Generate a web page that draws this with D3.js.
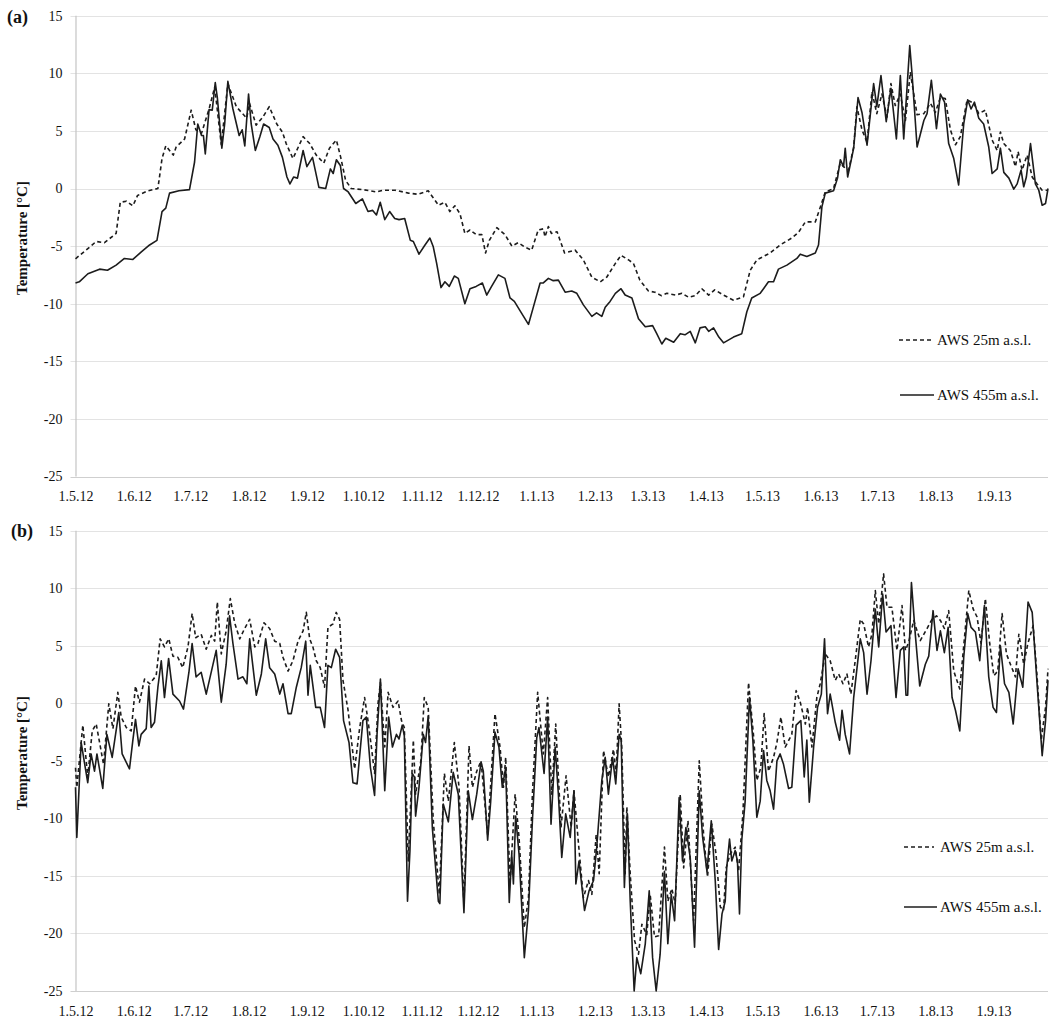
<!DOCTYPE html>
<html><head><meta charset="utf-8">
<script src="https://cdn.jsdelivr.net/npm/d3@7"></script>
<style>
html,body{margin:0;padding:0;background:#fff;}
svg{display:block;font-family:"Liberation Serif","Times New Roman",serif;}
</style></head>
<body>
<svg id="chart" width="1059" height="1023"></svg>
<script>
// ---------- DATA ----------
const startDate = "2012-05-01";
const endDay = 517; // days after start (30.9.13)
const xTickLabels = ["1.5.12","1.6.12","1.7.12","1.8.12","1.9.12","1.10.12","1.11.12","1.12.12","1.1.13","1.2.13","1.3.13","1.4.13","1.5.13","1.6.13","1.7.13","1.8.13","1.9.13"];
const yTicks = [15,10,5,0,-5,-10,-15,-20,-25];
const seriesNames = ["AWS 25m a.s.l.","AWS 455m a.s.l."];

// panel (a) AWS 25m: day offset / temperature
const a25Day = [0,7.4,11,15.4,21.6,23.8,27,30.5,33,38.5,43.8,46,48,52,53.5,58,61.5,64,67,71,74,77.5,81,85.5,91,92.5,96,99.6,103,107,110,112,115.6,121,124.5,128,132,135,138.7,141,143.6,146.6,153,160,163.5,170,177,182,187.5,193,196.4,199,201.7,204.4,207,209.7,213,216,218,220,224,228.3,232,235.4,239,242.5,246,248.7,249.6,251.4,253,256,260,265.6,270,274.5,279,282.4,287,290,294,296.6,300,304.6,308,311.4,314.4,319,322.4,326,329.5,333,336.6,339.8,344.5,349.8,355.1,358.7,362.2,369.3,374.6,380.8,384.4,388,393.3,396,398.6,403,406.6,408.3,411,413.7,415.4,418.1,420.8,423.4,426,428.7,431.4,433.5,435.8,438.5,441.2,443.8,447.4,451,454.5,457.1,459.8,462.4,465.1,467.8,470.4,474,477.5,480.2,483.7,487.3,490,491.7,493.5,497,499.7,501.1,503.2,505.9,508.6,511.2,513.9,517];
const a25Temp = [-6.1,-5.1,-4.6,-4.7,-3.9,-1.2,-1.1,-1.5,-0.6,-0.2,0,2.6,3.7,2.9,3.6,4.3,6.8,5.1,4.8,6.9,8.8,3.8,9.1,7.1,6.1,7.4,5.5,6.2,7.1,5.6,4.9,3.9,2.6,4.5,3.9,2.9,2.2,3.5,4.2,2.7,0.7,0,-0.1,-0.3,-0.15,-0.15,-0.4,-0.5,-0.2,-1.45,-1.2,-2.0,-1.5,-2.2,-3.9,-3.6,-4.0,-4.0,-5.6,-4.5,-3.4,-4.0,-5.0,-4.7,-5.1,-5.35,-3.6,-3.5,-4.2,-3.3,-3.9,-3.75,-5.6,-5.35,-6.2,-7.7,-8.1,-7.7,-6.5,-5.8,-6.2,-6.5,-7.95,-8.9,-9.0,-9.3,-9.1,-9.25,-9.1,-9.45,-9.3,-8.7,-9.25,-8.8,-9.25,-9.7,-9.4,-7.1,-6.2,-5.6,-4.9,-4.3,-3.8,-2.9,-2.9,-1.6,-0.3,0,2.2,1.9,1.6,3.6,7.1,5.1,4.0,8.4,6.5,8.2,6.2,9.1,7.2,8.2,5.9,10.1,6.4,6.5,7.4,6.6,7.9,7.8,5.1,3.8,4.5,7.7,7.4,6.5,6.8,4.2,3.3,4.9,3.9,3.3,1.9,3.2,1.6,2.9,1.0,0.4,-0.15,-0.15];

// panel (a) AWS 455m
const a455Day = [0,2,6.6,12.8,17,21.6,26,30.5,35,39.4,43.3,46,48,50,55,60.6,63.3,65,67,68,69,71,72.7,74.3,75.4,77.8,79.3,81,83.7,87,88.6,90,92,93.4,95.6,98,100,103,105,107.6,110,112.4,114,116,118,121,123,126,129.4,133,135.5,137,138.7,140.8,142.5,145,149,152.5,155.5,158,160,162,164.4,167,169.7,172,175,178,179.6,182.6,185.8,188.4,190.2,192,194.3,196.4,198.7,201.4,203.5,207,209.7,213,216.3,218.6,221.2,224.8,228.3,231,233.3,236.3,240.8,243.4,247,248.7,251.4,254,256.7,260.3,263.8,266.5,270,274.5,277,279.8,281.6,284.2,287,290,292.2,295.8,299.3,302.9,306.8,309,311.7,313.8,318,321.5,324,326.8,329.5,332,334.8,336.6,339.2,342,344.5,349.8,354.2,356.9,359.5,364,368.4,371.1,373.7,378.2,383.5,385.3,388.8,393.3,395,396.8,398.6,403,405.1,406.6,408.3,409.2,410.5,413.7,416,418.1,420.8,424.3,426,428.2,431,433.5,436.4,438.5,440.3,443.5,444.7,447.4,451,452.7,455,457.7,459.8,462,464.2,466.9,469.5,472.2,474.3,476.1,477.9,480.2,482.8,485.5,487.3,490,491.7,493.5,496.2,498.8,500.6,502.7,504.1,505.5,507.7,510.3,512.1,513.9,515.7,517];
const a455Temp = [-8.2,-8.1,-7.4,-7.0,-7.1,-6.65,-6.07,-6.16,-5.5,-4.9,-4.5,-2.0,-1.7,-0.4,-0.2,-0.1,2.3,5.6,4.6,4.6,3.0,6.85,6.8,9.2,7.9,3.5,5.6,9.3,6.9,4.6,5.1,3.7,8.2,5.6,3.3,4.5,5.6,5.3,4.3,3.76,2.7,1.0,0.4,1.0,0.9,3.3,1.9,2.7,0.1,0,1.7,1.3,2.5,2.0,0,-0.3,-1.3,-0.9,-2.0,-1.9,-2.3,-1.2,-2.7,-2.0,-2.6,-2.7,-2.6,-4.5,-4.6,-5.7,-4.9,-4.3,-5.06,-6.5,-8.6,-8.1,-8.5,-7.6,-7.8,-10.0,-8.7,-8.5,-8.2,-9.25,-8.5,-7.5,-7.8,-9.5,-9.8,-10.6,-11.8,-10.3,-8.2,-8.2,-7.8,-8.0,-7.95,-9.0,-8.9,-9.1,-10.1,-11.1,-10.8,-11.1,-10.3,-9.8,-9.1,-8.7,-9.25,-9.5,-11.3,-12.0,-11.9,-12.6,-13.5,-13.0,-13.35,-12.6,-12.7,-12.4,-13.4,-12.1,-12.0,-12.4,-12.1,-12.9,-13.4,-12.9,-12.6,-10.7,-9.5,-9.1,-8.1,-8.1,-7.0,-6.65,-6.07,-5.7,-5.9,-5.6,-4.9,-1.6,-0.4,-0.2,0.9,2.5,1.9,3.5,1.0,3.5,7.9,6.6,3.76,9.1,7.1,9.8,5.8,8.7,4.3,9.8,4.3,12.4,10.0,3.6,5.9,6.5,9.4,5.2,8.2,7.5,3.9,2.6,0.3,5.6,7.7,6.9,7.5,6.1,5.6,3.6,1.3,1.7,3.5,1.4,0.9,-0.05,0.4,1.6,0.15,1.0,3.9,0.4,-0.15,-1.45,-1.3,0];

// panel (b) AWS 25m
const b25Day = [0,0.7,3.9,6.5,8.9,11,12.8,14.9,17.7,19.9,22.5,24.3,27,29.6,31.9,34,36.7,39.4,42.9,45,47.3,49.6,51.8,54.4,57,59.8,62,63.9,66.8,69.5,72.2,74,75.4,77.5,80.1,82.3,84.6,87.3,89.9,92.6,95.3,97,100.2,103.2,105.9,108.6,110.3,113,115.6,118.3,121,122.7,124.5,126.2,128,130.1,132.4,134.2,136.9,138.6,140.4,142.2,144.9,148.4,151.1,153.7,155.5,157.3,159,160.8,162.1,164.4,166.2,168.8,171.5,173.3,174.8,176.9,179.6,180.8,183.6,185.4,187.5,190.2,193.4,196.1,198.2,201.4,203.9,206.5,209.2,211,213.3,215.6,219.1,223,225.7,227.5,228.7,231,233.7,235.8,238.6,240.8,242.9,245.7,248.7,251,253.2,255.3,258.1,260.8,263.5,265,267.4,270,272.7,274.5,276.8,278.4,280.7,283.3,286,287.4,289,290.4,292.2,293.1,294.9,297.2,299.3,301.1,303.7,305.5,307.8,310,313.1,314.9,317,318.8,321.5,323.3,325.6,328.6,331.6,333.9,336,338.3,340.5,342.8,344.5,345.9,348,350.7,352.5,354.8,357.8,360.4,362.2,364.3,366.1,368.4,371.1,372.9,375,377.3,380.8,383.1,385.3,388,389.2,391.5,394.1,395.9,398.6,401.2,403.9,405.7,408,410.1,412.2,414.5,417.2,419,421.6,423.4,425.2,427,429.6,431.4,434,436.7,439.4,441.2,442.9,445.6,449.1,452.7,455.3,457.7,459.8,461.9,464.2,466.9,470.1,473.1,474.9,477.2,479.3,481.4,483.7,486,488.2,490.3,492.6,494.9,497,499.7,501.5,504.1,506.3,509.1,511.2,513.4,515.7,517];
const b25Temp = [-5.6,-7.3,-1.9,-6.4,-2.4,-1.8,-3.4,-5.3,-0.05,-2.2,0.95,-1.2,-2.1,-2.4,1.5,0.1,2.1,1.7,2.4,5.6,4.9,5.6,4.1,4.0,3.1,4.9,7.8,5.7,6.0,4.7,5.9,5.4,8.8,4.3,6.3,9.1,7.0,5.6,6.5,7.3,4.9,5.2,7.0,6.5,5.4,5.2,4.0,2.8,3.7,5.4,6.3,7.9,5.6,4.9,3.7,3.1,1.4,6.6,6.9,7.9,7.3,2.0,-0.6,-5.7,-2.1,0.5,-1.5,-3.8,-6.1,-0.05,1.8,-3.8,0.95,-0.35,0.2,-1.5,-2.1,-13.7,-3.2,-7.9,-5.0,0.5,-0.35,-10.2,-16.6,-6.1,-8.5,-3.4,-7.3,-17.4,-3.7,-7.3,-5.9,-5.0,-11.4,-0.9,-3.8,-7.3,-4.7,-15.7,-7.9,-11.65,-19.5,-16.9,-7.9,0.95,-4.4,0.5,-7.9,-1.8,-10.8,-6.3,-10.8,-7.6,-12.2,-16.9,-15.4,-16.6,-11.4,-14.8,-4.1,-6.4,-4.0,-6.1,-0.05,-3.8,-14.8,-9.0,-14.8,-20.6,-21.8,-19.2,-20.1,-16.6,-20.3,-20.2,-12.5,-17.2,-16.1,-17.4,-7.9,-14.3,-10.2,-18.9,-5.0,-11.4,-15.1,-10.5,-13.1,-17.7,-18.0,-14.3,-13.1,-12.5,-14.6,-9.6,1.8,-2.7,-6.7,-5.6,-0.9,-5.9,-4.7,-3.4,-1.2,-3.8,-2.7,1.1,0.1,-1.8,-0.35,-3.8,0.5,1.7,4.3,3.7,2.0,2.55,1.7,2.55,0.8,3.7,7.3,6.9,4.9,6.0,9.8,6.9,11.25,8.35,8.35,4.6,8.5,4.6,5.3,7.2,5.45,6.5,7.3,7.6,7.2,6.5,8.05,2.8,1.25,6.6,9.8,8.2,7.5,5.2,9.1,5.2,2.4,2.8,7.8,4.3,3.4,2.3,6.0,3.4,5.2,6.75,2.3,-3.2,-0.35,3.0];

// panel (b) AWS 455m
const b455Day = [0,0.7,3,6.5,8.3,10.1,11.4,14.5,16.7,19.5,23,24.8,28.7,30.5,31.9,33.7,34.9,37.6,39,40.2,42,43.8,45.6,47.3,49.5,51.8,55.3,57.4,60.3,62,64.1,66.8,69.5,72.7,74.8,77.5,80.1,81.9,83.7,86.4,89,91.1,92.6,96.1,98.8,101.1,103.2,105.9,108.6,110.3,113,114.7,117.4,120,122.4,123.6,124.8,127.7,130.1,132.4,134.2,136,138.3,140.4,142.5,145.4,147.5,149.7,152.8,154.6,156.8,159,160.3,162.1,164.4,166.5,168.5,170.6,172,173.7,174.8,176.5,177.8,179,180.1,180.8,182.6,184.9,186.1,187.5,189.7,192.9,193.7,195.5,198.2,200.8,203.5,206.5,208.8,211,213.3,215.6,216.8,219.1,220.7,223,225.1,226.9,228.7,230.6,231.9,232.8,234,235.8,238.6,240.8,242.9,245.2,246.4,249.1,251,252.8,255,256.7,258.5,260.6,263,265,266,267.7,270.6,273,275.4,277.1,279.8,281.6,283.3,285.5,287.2,289,290.1,291.8,293.4,294.9,297,298.4,300.5,302.9,305,306.8,308.7,310.8,313.1,314.9,316.7,318.5,320.9,322.7,324.5,326.8,329.1,331.6,333.4,335.7,338,340.1,341.9,343.7,345.4,346.2,347.7,348.9,350.7,351.9,353,354.2,356,358.3,360.1,362.2,364,365.8,367.5,369.3,371.1,372.9,374.6,376.4,379.1,380.8,383.1,385.6,387.4,388.8,390.1,392.4,394.5,396.5,398.2,399.8,401.2,403.9,406.2,407.5,409.2,411.5,413.7,417.2,419,420.8,422.9,425.2,427,429.1,430.9,433.5,436.2,438.5,440.3,441.5,442.4,444.4,446.5,448.8,451.8,453.6,455.9,458,459.8,461.9,463.9,466,467.8,470.1,472.2,474.3,476.1,478.4,480.7,483.2,485.5,487.8,489.6,491.7,493.9,496.2,498.5,501.1,503.6,506.4,508.6,511.2,513.9,515.7,517];
const b455Temp = [-7.3,-11.65,-3.4,-6.9,-4.4,-5.9,-4.4,-7.4,-2.7,-4.7,-0.8,-4.4,-5.7,-3.2,-1.4,-3.7,-2.7,-2.2,1.5,-2.1,-1.65,1.4,3.7,0.5,3.9,0.8,0.2,-0.5,2.7,5.2,2.3,2.7,0.8,3.1,4.6,0.1,3.4,7.6,5.2,2.1,2.3,1.7,5.6,0.7,2.55,5.6,3.1,2.55,0.8,1.7,-0.9,-0.9,1.4,3.1,5.4,0.7,3.3,-0.35,-0.35,-2.1,3.3,3.1,4.7,4.0,-1.5,-3.4,-6.9,-7.0,-1.5,-1.2,-5.6,-8.0,-2.7,2.1,-7.6,-1.2,-3.8,-2.7,-3.1,-1.9,-2.8,-17.2,-12.8,-6.1,-6.4,-9.8,-7.3,-2.7,-3.4,-1.1,-10.8,-17.2,-17.4,-8.75,-10.3,-6.0,-7.9,-18.2,-7.6,-10.1,-7.9,-5.1,-5.9,-11.9,-8.6,-2.5,-3.8,-7.3,-5.6,-17.3,-13.1,-15.7,-9.8,-13.1,-22.1,-18.0,-10.2,-3.0,-2.1,-6.1,-1.2,-10.5,-3.8,-7.9,-13.4,-9.6,-11.65,-7.6,-15.7,-13.7,-18.0,-16.3,-15.4,-12.5,-6.7,-4.7,-7.9,-4.7,-7.0,-2.7,-3.2,-16.0,-9.6,-17.2,-25.0,-22.1,-23.5,-20.9,-16.3,-22.1,-25.0,-21.8,-14.6,-20.9,-16.6,-18.9,-8.2,-13.7,-10.8,-13.4,-21.2,-7.6,-11.65,-14.6,-10.2,-15.4,-21.4,-18.3,-17.2,-14.3,-11.8,-13.7,-12.8,-13.7,-18.3,-11.9,-8.5,0.5,-3.2,-9.9,-8.5,-4.1,-6.7,-7.6,-9.2,-5.0,-4.4,-5.3,-7.4,-7.3,-1.9,-1.5,-6.4,-3.2,-8.6,-3.8,-0.35,0.8,5.6,-0.9,0.8,-1.65,-3.2,-0.6,-2.7,-4.4,0.5,5.6,4.4,0.8,3.7,8.2,4.9,9.5,6.2,6.75,0.5,4.6,4.9,0.7,0.7,10.5,5.9,1.5,3.4,4.1,8.05,4.6,6.3,4.4,6.6,0.5,-0.6,-2.4,4.0,7.8,6.6,6.2,3.7,8.5,2.3,-0.35,-0.8,5.0,1.7,0.95,-1.8,3.0,1.4,8.8,7.9,1.7,-4.55,-1.5,2.0];

// ---------- DRAW ----------
const svg = d3.select("#chart");
const t0 = d3.timeParse("%Y-%m-%d")(startDate);
const dayToDate = d => new Date(t0.getTime() + d * 86400000);
const parseLabel = s => { const [dd, mm, yy] = s.split(".").map(Number); return new Date(2000 + yy, mm - 1, dd); };
const labelDates = xTickLabels.map(parseLabel);
const fmtLabel = dt => `${dt.getDate()}.${dt.getMonth() + 1}.${String(dt.getFullYear()).slice(2)}`;

const plotLeft = 75.5, plotRight = 1048;
const x = d3.scaleTime().domain([t0, dayToDate(endDay)]).range([plotLeft, plotRight]);

const panels = [
  { label: "(a)", top: 15.7, bottom: 476.5, s25: [a25Day, a25Temp], s455: [a455Day, a455Temp],
    labelPos: [7, 23], titleY: 238,
    leg: [{ y: 340, x1: 899, x2: 931, tx: 937, dash: true }, { y: 395, x1: 900, x2: 934, tx: 937, dash: false }] },
  { label: "(b)", top: 530.7, bottom: 991, s25: [b25Day, b25Temp], s455: [b455Day, b455Temp],
    labelPos: [11, 537], titleY: 753,
    leg: [{ y: 847, x1: 904, x2: 934, tx: 940, dash: true }, { y: 907, x1: 904, x2: 937, tx: 940, dash: false }] }
];

const lineColor = "#1c1c1c";
const font = "Liberation Serif, Times New Roman, serif";

panels.forEach(p => {
  const y = d3.scaleLinear().domain([-25, 15]).range([p.bottom, p.top]);
  const g = svg.append("g");

  // gridlines
  g.append("g").selectAll("line").data(yTicks).join("line")
    .attr("x1", plotLeft - 5).attr("x2", plotRight)
    .attr("y1", d => Math.round(y(d)) + 0.5).attr("y2", d => Math.round(y(d)) + 0.5)
    .attr("stroke", d => d === -25 ? "#cfcfcf" : "#e3e3e3").attr("stroke-width", 1.2);

  // y axis
  const yAxis = g.append("g").attr("transform", `translate(${plotLeft},0)`)
    .call(d3.axisLeft(y).tickValues(yTicks).tickSize(0).tickPadding(13).tickFormat(d => String(d)));
  yAxis.select(".domain").attr("stroke", "#c4c4c4").attr("stroke-width", 1.2)
    .attr("d", `M0.5,${p.top}V${p.bottom}`);
  yAxis.selectAll("text").attr("font-size", 14).attr("fill", "#111").attr("font-family", font);

  // x axis
  const xAxis = g.append("g").attr("transform", `translate(0,${p.bottom})`)
    .call(d3.axisBottom(x).tickValues(labelDates).tickSize(0).tickPadding(15).tickFormat(fmtLabel));
  xAxis.select(".domain").remove();
  xAxis.selectAll("text").attr("font-size", 14).attr("fill", "#111").attr("font-family", font);

  // lines
  const line = d3.line().x(d => x(dayToDate(d[0]))).y(d => y(d[1]));
  const pts25 = p.s25[0].map((d, i) => [d, p.s25[1][i]]);
  const pts455 = p.s455[0].map((d, i) => [d, p.s455[1][i]]);
  g.append("path").datum(pts455).attr("d", line).attr("fill", "none")
    .attr("stroke", lineColor).attr("stroke-width", 1.6).attr("stroke-linejoin", "round");
  g.append("path").datum(pts25).attr("d", line).attr("fill", "none")
    .attr("stroke", lineColor).attr("stroke-width", 1.6).attr("stroke-dasharray", "4,3").attr("stroke-linejoin", "round");

  // legend
  p.leg.forEach((l, i) => {
    g.append("line").attr("x1", l.x1).attr("x2", l.x2).attr("y1", l.y).attr("y2", l.y)
      .attr("stroke", lineColor).attr("stroke-width", 1.5).attr("stroke-dasharray", l.dash ? "4,3" : null);
    g.append("text").attr("x", l.tx).attr("y", l.y).attr("dy", "0.35em")
      .attr("font-size", 15).attr("fill", "#111").text(seriesNames[i]);
  });

  // panel label
  g.append("text").attr("x", p.labelPos[0]).attr("y", p.labelPos[1])
    .attr("font-size", 18).attr("font-weight", "bold").attr("fill", "#111").text(p.label);

  // y title
  g.append("text").attr("transform", `translate(27,${p.titleY}) rotate(-90)`)
    .attr("text-anchor", "middle").attr("font-size", 15).attr("font-weight", "bold").attr("fill", "#111")
    .text("Temperature [°C]");
});
</script>
</body></html>
